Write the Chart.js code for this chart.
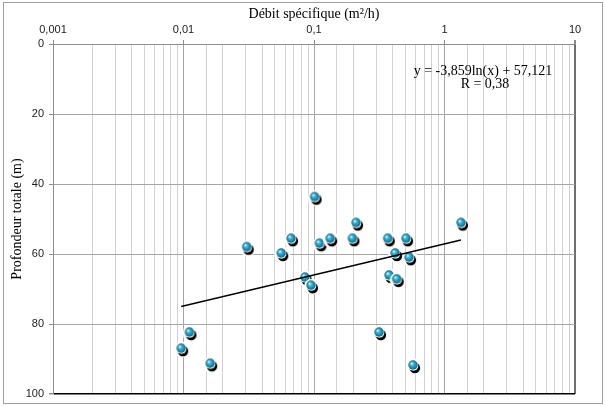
<!DOCTYPE html>
<html>
<head>
<meta charset="utf-8">
<script src="https://cdn.jsdelivr.net/npm/chart.js@4"></script>
<style>
  html, body { margin: 0; padding: 0; background: #fff; }
  #wrap { width: 605px; height: 406px; }
</style>
</head>
<body>
<div id="wrap"><canvas id="chart" width="605" height="406"></canvas></div>
<script>
// données
const debit = [0.0096, 0.0111, 0.016, 0.0305, 0.0561, 0.0667, 0.0853, 0.0948, 0.101, 0.11, 0.133,
               0.197, 0.21, 0.315, 0.367, 0.376, 0.418, 0.43, 0.507, 0.535, 0.574, 1.337];
const profondeur = [86.9, 82.3, 91.2, 57.9, 59.7, 55.5, 66.6, 68.9, 43.6, 56.9, 55.5,
                    55.5, 51.0, 82.3, 55.5, 66.0, 59.7, 67.1, 55.5, 60.9, 91.7, 51.0];

// courbe de tendance (extrémités)
const trendX = [0.0096, 1.337];
const trendY = [75.0, 56.0];

const equation = ['y = -3,859ln(x) + 57,121', 'R = 0,38'];

function isMajor(v) {
  const l = Math.log10(v);
  return Math.abs(l - Math.round(l)) < 1e-6;
}

// marqueur : bille bleue avec ombre
function makeMarker() {
  const c = document.createElement('canvas');
  c.width = 26; c.height = 26;
  const g = c.getContext('2d');
  const cx = 13, cy = 13;
  g.fillStyle = '#fff';
  g.beginPath(); g.arc(cx + 1, cy + 1.5, 8, 0, Math.PI * 2); g.fill();
  g.fillStyle = '#000';
  g.beginPath(); g.arc(cx + 1.8, cy + 2.9, 5.3, 0, Math.PI * 2); g.fill();
  g.fillStyle = '#fff';
  g.beginPath(); g.arc(cx + 0.3, cy + 0.8, 5.0, 0, Math.PI * 2); g.fill();
  const grad = g.createRadialGradient(cx - 1.5, cy - 1.6, 0.4, cx, cy, 4.7);
  grad.addColorStop(0, '#d2f6fd');
  grad.addColorStop(0.35, '#35b0d0');
  grad.addColorStop(1, '#0d6886');
  g.fillStyle = grad;
  g.beginPath(); g.arc(cx, cy, 4.7, 0, Math.PI * 2); g.fill();
  return c;
}

const framePlugin = {
  id: 'frame',
  beforeDraw(chart) {
    const ctx = chart.ctx;
    ctx.save();
    ctx.fillStyle = '#fff';
    ctx.fillRect(0, 0, chart.width, chart.height);
    ctx.strokeStyle = '#a0a0a0';
    ctx.lineWidth = 1;
    ctx.strokeRect(3.5, 2.5, 599, 401);
    ctx.restore();
  },
  afterDraw(chart) {
    const ctx = chart.ctx;
    ctx.save();
    ctx.fillStyle = '#000';
    ctx.font = '14px "Liberation Serif", "Times New Roman", serif';
    ctx.textAlign = 'center';
    ctx.textBaseline = 'middle';
    ctx.fillText(equation[0], 483, 71);
    ctx.fillText(equation[1], 485, 84);
    ctx.restore();
  }
};

function renderChart() {
  const marker = makeMarker();
  const tickFont = { family: '"Liberation Sans", Arial, sans-serif', size: 11 };
  const titleFont = { family: '"Liberation Serif", "Times New Roman", serif', size: 14 };

  new Chart(document.getElementById('chart'), {
    type: 'scatter',
    data: {
      datasets: [
        {
          data: trendX.map((x, i) => ({ x: x, y: trendY[i] })),
          showLine: true,
          borderColor: '#000',
          borderWidth: 1.3,
          pointRadius: 0
        },
        {
          data: debit.map((x, i) => ({ x: x, y: profondeur[i] })),
          pointStyle: marker,
          pointRadius: 6
        }
      ]
    },
    options: {
      responsive: false,
      animation: false,
      layout: { padding: { left: 0, top: 0, right: 30, bottom: 12 } },
      plugins: { legend: { display: false }, tooltip: { enabled: false } },
      scales: {
        x: {
          type: 'logarithmic',
          position: 'top',
          min: 0.001,
          max: 10,
          afterFit: s => { s.height = 44; },
          border: { color: '#8c8c8c' },
          grid: {
            color: c => {
              const v = c.tick.value;
              if (Math.abs(v - 10) < 1e-9) return '#6e6e6e';
              return isMajor(v) ? '#a6a6a6' : '#d2d2d2';
            },
            lineWidth: c => (Math.abs(c.tick.value - 10) < 1e-9 ? 2 : 1),
            tickColor: c => (isMajor(c.tick.value) ? '#8c8c8c' : 'rgba(0,0,0,0)'),
            tickLength: 4
          },
          ticks: {
            autoSkip: false,
            maxRotation: 0,
            padding: 3,
            color: '#222',
            font: tickFont,
            callback: v => (isMajor(v) ? String(Number(v.toPrecision(1))).replace('.', ',') : '')
          },
          title: {
            display: true,
            text: 'Débit spécifique (m²/h)',
            color: '#000',
            font: titleFont,
            padding: { top: 6, bottom: 0 }
          }
        },
        y: {
          type: 'linear',
          reverse: true,
          min: 0,
          max: 100,
          afterFit: s => { s.width = 53; },
          border: { color: '#8c8c8c' },
          grid: {
            color: c => (c.tick.value === 100 ? '#000' : '#a6a6a6'),
            lineWidth: c => (c.tick.value === 100 ? 1.5 : 1),
            tickColor: '#8c8c8c',
            tickLength: 4
          },
          ticks: {
            stepSize: 20,
            padding: 5,
            color: '#222',
            font: tickFont
          },
          title: {
            display: true,
            text: 'Profondeur totale (m)',
            color: '#000',
            font: titleFont,
            padding: { top: 9, bottom: 0 }
          }
        }
      }
    },
    plugins: [framePlugin]
  });
}

if (document.readyState === 'loading') {
  document.addEventListener('DOMContentLoaded', renderChart);
} else {
  renderChart();
}
</script>
</body>
</html>
